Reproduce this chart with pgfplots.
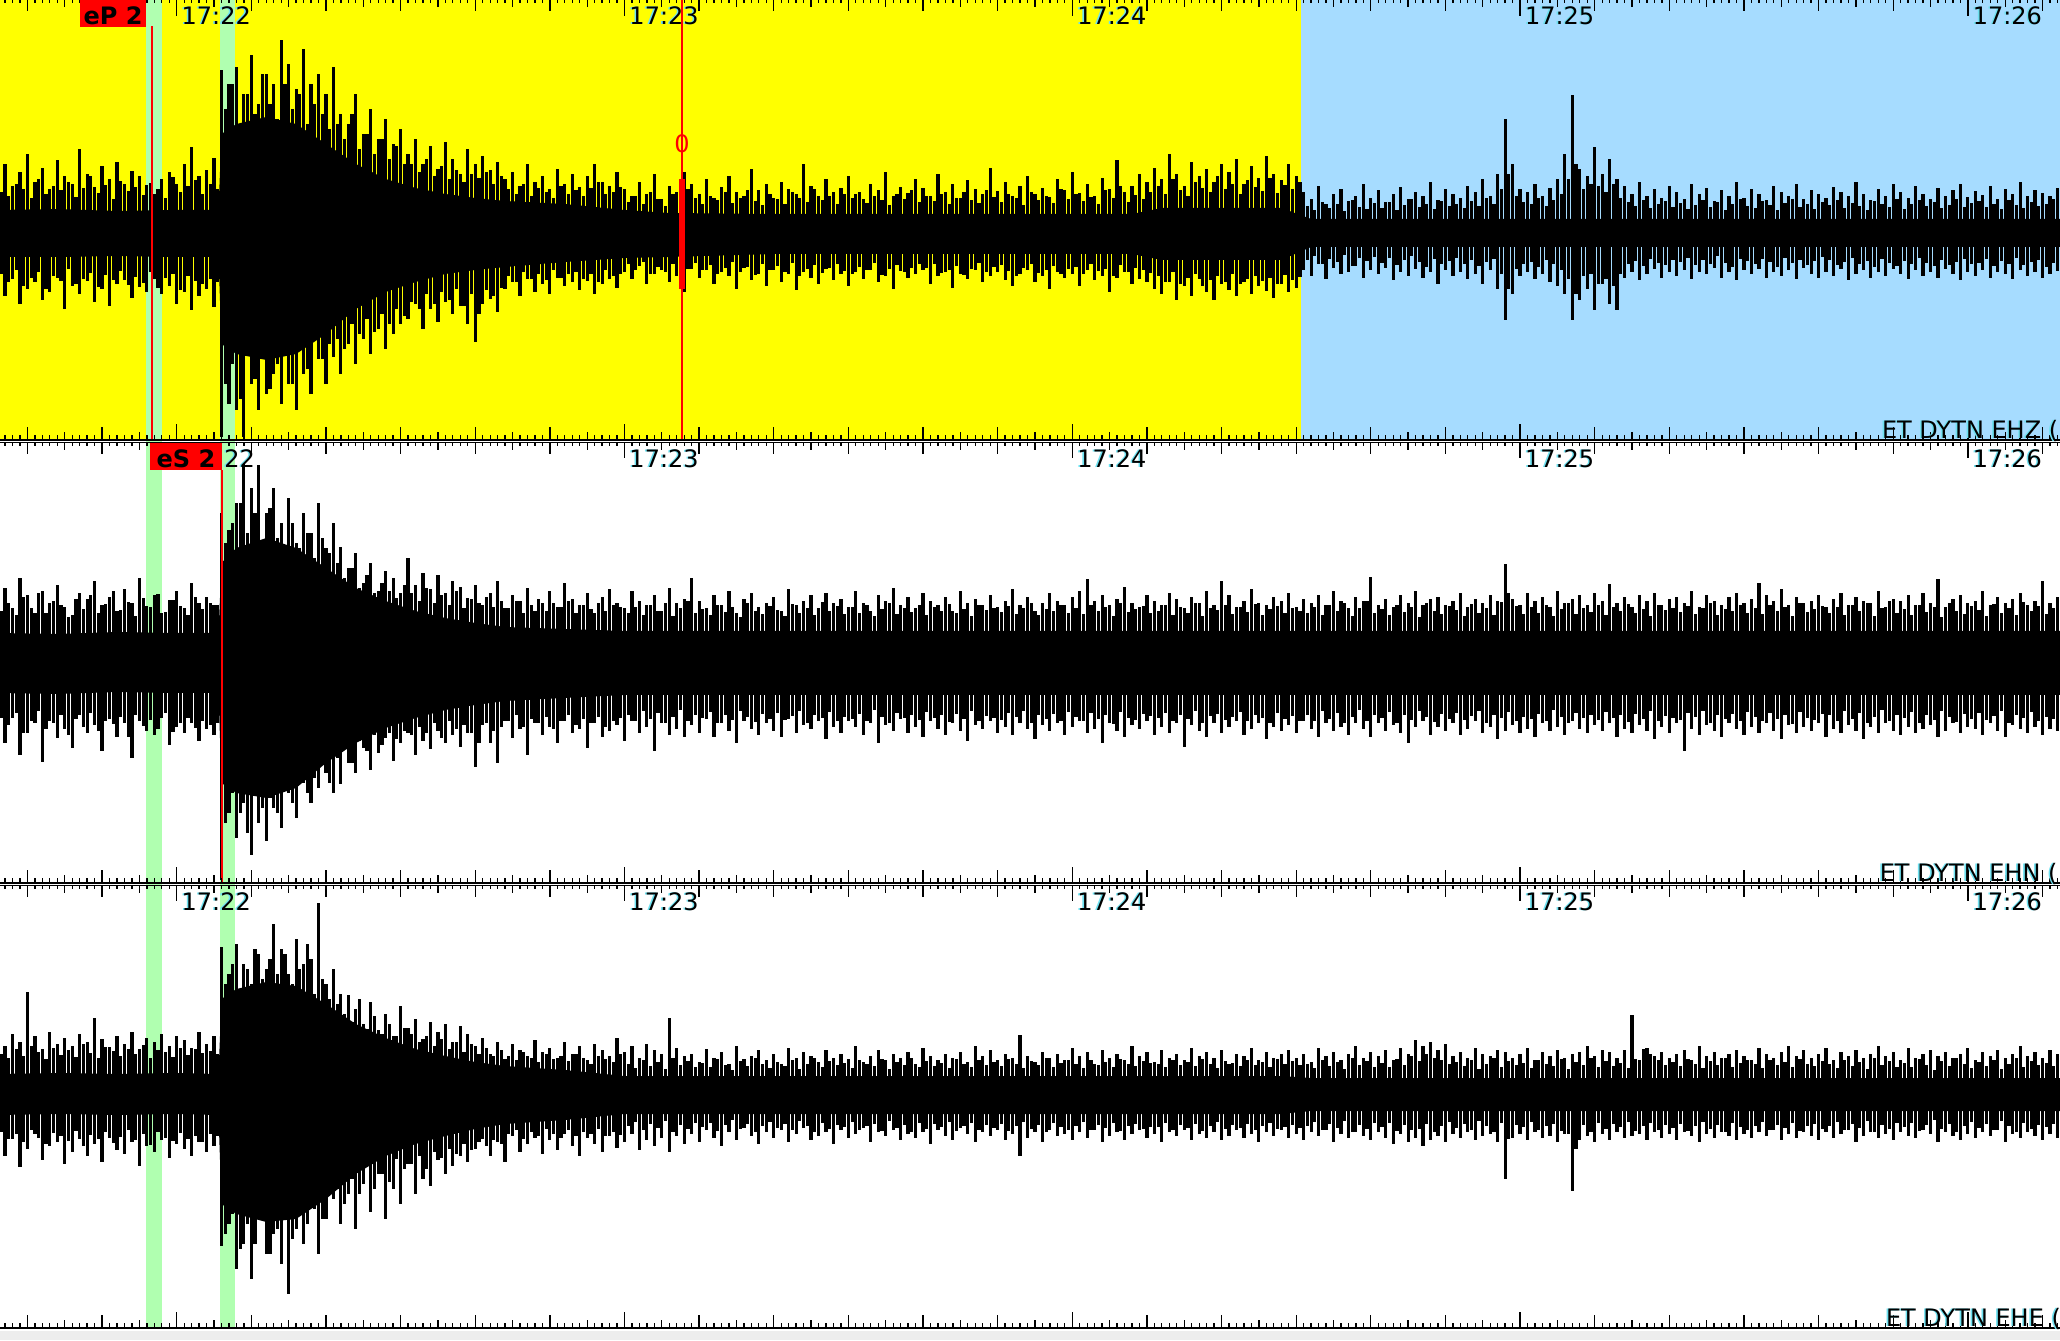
\documentclass[border=0pt]{standalone}
\usepackage{fontspec}
\setmainfont{DejaVu Sans}
\usepackage{pgfplots}
\pgfplotsset{compat=1.18}
\usepackage{pgfplotstable}
\definecolor{ybg}{RGB}{255,255,0}
\definecolor{bbg}{RGB}{166,220,255}
\definecolor{gband}{RGB}{176,255,176}
\definecolor{shadowc}{RGB}{110,225,240}
\definecolor{grayband}{RGB}{237,237,237}
\newcommand\lab{\fontsize{12}{14}\selectfont}

% main spikes: t (s after 17:22:00), up/down extremes per trace (EHZ, EHN, EHE), in px
\pgfplotstableread{
t a1 b1 a2 b2 a3 b3
-24 55 -50 62 -65 55 -50
-23 70 -62 75 -80 48 -62
-22 48 -45 55 -55 60 -45
-21 62 -70 85 -92 52 -73
-20 80 -55 68 -70 102 -55
-19 52 -48 50 -60 58 -40
-18 66 -66 72 -99 45 -66
-17 45 -58 60 -58 62 -52
-16 74 -44 78 -75 50 -48
-15 58 -75 56 -66 56 -70
-14 50 -52 48 -85 48 -58
-13 85 -60 70 -52 60 -45
-12 60 -47 64 -70 52 -62
-11 47 -68 82 -62 76 -50
-10 68 -55 58 -88 55 -68
-9 55 -72 66 -56 47 -44
-8 72 -50 52 -74 58 -56
-7 50 -46 74 -60 50 -60
-6 63 -64 60 -95 62 -48
-5 58 -53 85 -58 45 -72
-4 49 -58 57 -68 56 -52
-3 40 -45 68 -72 52 -58
-2 55 -60 50 -55 60 -46
-1 62 -52 63 -82 48 -64
0 50 -70 72 -64 58 -50
1 70 -58 55 -70 54 -55
2 87 -76 80 -60 46 -62
3 58 -62 60 -78 62 -48
4 64 -55 66 -66 50 -58
5 76 -73 58 -72 58 -52
6 164 -203 150 -217 147 -152
7 150 -170 133 -150 120 -130
8 167 -176 160 -175 150 -175
9 140 -203 200 -140 130 -150
10 179 -150 175 -192 110 -185
11 130 -176 198 -160 140 -120
12 160 -160 150 -178 125 -160
13 150 -140 175 -145 170 -140
14 194 -170 140 -165 145 -170
15 170 -150 165 -130 120 -200
16 145 -176 120 -155 155 -135
17 185 -140 150 -120 130 -150
18 150 -160 130 -140 135 -110
19 160 -125 160 -125 191 -160
20 140 -150 115 -110 110 -125
21 167 -123 140 -130 125 -105
22 120 -140 116 -121 100 -130
23 110 -110 95 -100 99 -100
24 140 -130 110 -110 85 -135
25 100 -105 80 -85 70 -90
26 125 -120 100 -107 92 -118
27 95 -95 72 -90 64 -80
28 115 -115 92 -75 80 -125
29 90 -100 85 -98 58 -95
30 105 -90 70 -80 88 -110
31 80 -85 105 -70 66 -70
32 95 -70 78 -92 75 -100
33 70 -95 90 -78 55 -85
34 88 -75 74 -86 72 -92
35 65 -88 88 -68 62 -66
36 92 -68 70 -80 70 -80
37 75 -80 82 -72 52 -72
38 60 -72 76 -84 68 -62
39 85 -90 65 -70 60 -68
40 70 -108 78 -104 48 -55
41 78 -70 58 -62 56 -45
42 64 -65 70 -80 40 -62
43 72 -78 82 -100 52 -48
44 55 -55 55 -58 35 -68
45 62 -48 68 -75 50 -42
46 48 -62 62 -66 44 -58
47 70 -45 75 -92 38 -50
48 52 -58 52 -60 54 -44
49 58 -50 60 -72 42 -60
50 45 -60 72 -64 46 -46
51 65 -44 56 -80 36 -56
52 50 -52 80 -58 52 -40
53 60 -48 64 -70 40 -52
54 47 -56 58 -66 48 -62
55 58 -47 70 -85 34 -44
56 70 -60 50 -60 50 -50
57 52 -50 66 -74 44 -58
58 48 -45 74 -68 38 -42
59 62 -54 60 -62 56 -54
60 45 -38 55 -78 42 -48
61 38 -45 72 -58 48 -40
62 52 -32 62 -70 36 -56
63 40 -50 58 -64 50 -46
64 60 -40 68 -88 44 -52
65 35 -36 52 -60 40 -44
66 48 -48 75 -72 76 -58
67 42 -42 60 -66 46 -42
68 62 -58 64 -74 38 -50
69 50 -35 85 -62 40 -40
70 40 -44 62 -70 32 -48
71 55 -36 55 -56 45 -36
72 36 -50 68 -74 36 -44
73 47 -38 58 -60 42 -52
74 58 -42 72 -68 30 -38
75 42 -55 50 -80 48 -46
76 38 -34 64 -58 35 -34
77 65 -46 70 -66 38 -42
78 44 -40 56 -72 44 -50
79 50 -52 60 -60 34 -38
80 36 -36 66 -68 40 -44
81 52 -48 52 -74 30 -36
82 45 -40 74 -56 46 -48
83 40 -56 58 -70 36 -40
84 70 -38 62 -62 42 -34
85 48 -44 68 -66 38 -46
86 38 -50 55 -58 32 -42
87 55 -35 70 -76 44 -38
88 42 -46 60 -64 36 -50
89 46 -40 64 -70 40 -36
90 58 -52 56 -58 35 -44
91 40 -38 72 -64 48 -40
92 35 -45 60 -72 32 -34
93 50 -36 52 -60 38 -48
94 44 -48 68 -80 44 -38
95 62 -42 62 -62 34 -42
96 38 -55 75 -68 40 -36
97 47 -37 58 -56 36 -46
98 41 -44 66 -70 42 -40
99 55 -40 55 -64 30 -44
100 46 -36 70 -74 46 -38
101 38 -50 62 -58 38 -50
102 60 -42 58 -66 34 -36
103 42 -38 66 -72 40 -42
104 50 -54 52 -60 36 -46
105 36 -40 72 -68 42 -34
106 54 -45 60 -78 32 -40
107 45 -36 64 -62 48 -48
108 40 -48 58 -66 38 -38
109 66 -42 68 -58 44 -42
110 43 -38 56 -70 34 -36
111 52 -46 62 -64 40 -46
112 38 -52 74 -72 36 -40
113 48 -40 58 -60 59 -62
114 58 -36 66 -66 38 -44
115 40 -48 52 -76 32 -38
116 46 -42 60 -62 42 -48
117 37 -55 70 -68 36 -36
118 55 -38 62 -60 40 -42
119 44 -44 58 -72 34 -40
120 62 -40 66 -64 46 -46
121 41 -52 72 -58 38 -38
122 50 -36 84 -70 42 -44
123 38 -46 62 -66 30 -36
124 56 -42 68 -80 44 -48
125 45 -58 58 -60 36 -42
126 74 -44 64 -68 40 -38
127 42 -38 76 -74 34 -46
128 48 -50 60 -62 48 -40
129 60 -45 56 -66 38 -36
130 52 -48 68 -58 42 -44
131 66 -55 62 -72 32 -40
132 55 -60 58 -64 44 -48
133 80 -48 70 -70 36 -38
134 60 -66 64 -60 40 -42
135 48 -52 55 -84 34 -36
136 72 -62 66 -62 46 -46
137 58 -45 60 -68 38 -40
138 65 -58 72 -74 42 -44
139 52 -66 58 -60 36 -38
140 70 -50 82 -70 44 -46
141 62 -56 68 -64 30 -42
142 75 -62 56 -58 40 -36
143 50 -48 62 -72 38 -44
144 68 -60 74 -66 46 -40
145 56 -52 60 -60 34 -48
146 78 -57 58 -76 42 -38
147 60 -64 66 -64 36 -42
148 54 -50 62 -68 40 -36
149 70 -58 70 -62 44 -44
150 58 -54 56 -70 36 -40
151 42 -36 64 -58 40 -46
152 35 -42 60 -66 32 -38
153 48 -30 68 -74 46 -42
154 30 -45 58 -60 38 -36
155 40 -34 72 -68 42 -48
156 45 -40 62 -64 34 -40
157 33 -38 55 -72 40 -44
158 38 -32 66 -60 48 -38
159 50 -44 62 -66 36 -42
160 36 -36 86 -74 42 -46
161 44 -40 58 -60 38 -38
162 32 -34 64 -68 44 -44
163 40 -46 56 -62 34 -50
164 47 -38 68 -70 46 -40
165 35 -42 60 -80 40 -48
166 42 -35 72 -64 54 -44
167 38 -44 58 -58 48 -52
168 52 -38 64 -72 52 -46
169 34 -50 66 -64 44 -42
170 45 -36 58 -68 50 -48
171 40 -42 62 -60 38 -40
172 36 -38 70 -72 42 -44
173 48 -45 56 -66 36 -38
174 42 -40 64 -58 46 -46
175 55 -50 60 -70 40 -42
176 38 -36 68 -64 38 -40
177 60 -55 62 -76 44 -48
178 115 -86 99 -68 42 -85
179 70 -60 64 -62 36 -44
180 45 -42 58 -70 40 -40
181 42 -38 70 -66 46 -46
182 50 -45 62 -74 34 -38
183 38 -40 66 -60 42 -44
184 46 -48 56 -68 38 -42
185 55 -52 72 -64 44 -48
186 80 -60 60 -72 36 -40
187 139 -86 64 -58 40 -97
188 65 -66 68 -66 42 -46
189 58 -55 58 -70 48 -42
190 87 -76 70 -62 38 -48
191 60 -50 62 -68 44 -40
192 75 -70 79 -60 42 -46
193 55 -76 60 -74 36 -38
194 48 -44 66 -66 44 -44
195 40 -38 56 -70 79 -42
196 52 -46 68 -62 34 -40
197 38 -40 62 -68 46 -46
198 45 -35 70 -76 38 -38
199 36 -44 58 -64 42 -44
200 48 -38 64 -70 36 -40
201 42 -42 66 -60 40 -46
202 35 -36 60 -88 44 -38
203 50 -45 72 -66 34 -42
204 40 -38 56 -72 48 -48
205 46 -40 68 -62 38 -40
206 33 -34 62 -68 42 -44
207 44 -44 58 -74 36 -38
208 38 -38 66 -60 40 -42
209 52 -46 70 -66 44 -46
210 36 -36 60 -72 38 -40
211 45 -40 64 -64 34 -44
212 40 -35 80 -70 46 -38
213 34 -44 68 -60 40 -42
214 48 -38 62 -68 36 -36
215 42 -42 74 -76 42 -46
216 38 -36 58 -62 48 -40
217 50 -45 66 -70 38 -44
218 35 -34 60 -64 44 -38
219 44 -40 62 -68 36 -42
220 40 -44 68 -60 40 -46
221 36 -38 56 -74 46 -38
222 47 -42 64 -66 34 -44
223 42 -35 70 -70 42 -40
224 38 -46 58 -62 38 -36
225 52 -40 66 -68 44 -48
226 40 -36 62 -76 36 -42
227 34 -44 60 -64 40 -38
228 45 -38 72 -70 48 -44
229 38 -42 56 -60 38 -40
230 50 -35 64 -68 42 -46
231 42 -40 62 -72 34 -38
232 36 -45 68 -64 46 -42
233 48 -36 58 -70 36 -44
234 40 -42 70 -66 40 -36
235 35 -38 60 -62 44 -40
236 46 -44 84 -74 38 -48
237 38 -35 56 -68 42 -38
238 44 -40 64 -60 36 -42
239 50 -46 68 -70 40 -46
240 37 -38 60 -64 46 -40
241 43 -42 62 -66 34 -44
242 39 -36 72 -72 42 -38
243 48 -44 58 -60 38 -42
244 35 -38 66 -68 44 -36
245 45 -40 60 -74 36 -48
246 40 -45 64 -62 40 -40
247 52 -36 70 -66 48 -44
248 38 -42 58 -70 38 -38
249 44 -38 62 -64 42 -42
250 41 -44 82 -72 36 -46
251 38 -40 60 -66 44 -40
252 46 -37 66 -68 40 -44
}\spk

% in-between spikes at half seconds
\pgfplotstableread{
t a1 b1 a2 b2 a3 b3
-23.5 42 -40 52 -55 40 -38
-22.5 38 -48 60 -62 36 -45
-21.5 50 -36 48 -50 45 -40
-20.5 45 -52 66 -70 38 -48
-19.5 36 -44 55 -58 48 -36
-18.5 55 -38 70 -48 42 -44
-17.5 40 -55 50 -66 35 -50
-16.5 48 -42 62 -60 46 -39
-15.5 44 -47 58 -52 39 -42
-14.5 52 -35 46 -72 44 -47
-13.5 37 -50 64 -56 37 -37
-12.5 46 -45 54 -64 50 -52
-11.5 58 -39 68 -50 41 -41
-10.5 41 -53 50 -68 36 -45
-9.5 49 -41 59 -58 47 -38
-8.5 35 -46 72 -61 43 -49
-7.5 53 -37 53 -54 38 -43
-6.5 43 -51 61 -74 45 -36
-5.5 47 -43 47 -52 40 -46
-4.5 39 -49 65 -63 49 -40
-3.5 51 -38 56 -57 36 -51
-2.5 45 -54 69 -66 44 -38
-1.5 36 -44 51 -50 42 -44
-0.5 57 -40 63 -69 37 -47
0.5 42 -56 57 -60 46 -39
1.5 48 -42 48 -55 39 -45
2.5 54 -47 66 -65 45 -42
3.5 40 -50 54 -58 41 -48
4.5 50 -45 60 -62 43 -40
5.5 45 -48 58 -60 40 -42
6.5 125 -150 120 -160 110 -140
7.5 150 -130 140 -130 130 -120
8.5 110 -165 160 -150 100 -155
9.5 140 -120 130 -170 125 -130
10.5 120 -145 150 -125 145 -150
11.5 160 -110 120 -145 115 -125
12.5 130 -155 155 -135 135 -160
13.5 115 -130 125 -150 120 -135
14.5 150 -120 110 -120 140 -120
15.5 125 -150 140 -140 110 -145
16.5 140 -115 115 -110 125 -110
17.5 110 -135 130 -130 150 -130
18.5 130 -105 105 -115 100 -115
19.5 120 -125 125 -100 115 -125
20.5 105 -110 110 -120 95 -100
21.5 110 -105 100 -95 90 -95
22.5 95 -115 85 -85 80 -110
23.5 120 -90 95 -100 72 -85
24.5 85 -100 75 -78 95 -100
25.5 100 -85 88 -88 65 -72
26.5 80 -98 70 -72 78 -95
27.5 95 -80 80 -82 60 -80
28.5 75 -90 72 -70 70 -88
29.5 88 -75 65 -76 58 -65
30.5 70 -82 78 -68 66 -75
31.5 70 -68 70 -72 60 -70
32.5 62 -75 62 -64 52 -62
33.5 75 -60 75 -70 58 -75
34.5 58 -70 60 -60 48 -58
35.5 68 -58 68 -75 55 -64
36.5 55 -66 58 -58 45 -55
37.5 64 -55 72 -66 52 -60
38.5 52 -72 55 -62 42 -50
39.5 60 -60 64 -70 50 -56
40.5 56 -80 60 -80 40 -48
41.5 62 -56 66 -60 46 -52
42.5 50 -62 56 -68 38 -46
43.5 58 -54 62 -64 44 -50
44.5 45 -42 55 -58 38 -40
45.5 40 -48 62 -52 34 -36
46.5 50 -38 50 -64 42 -45
47.5 38 -45 58 -56 36 -38
48.5 46 -40 64 -60 32 -42
49.5 42 -46 52 -54 40 -35
50.5 36 -36 60 -66 35 -40
51.5 48 -44 56 -58 38 -44
52.5 40 -40 62 -52 33 -36
53.5 44 -38 50 -62 40 -42
54.5 38 -45 58 -56 36 -38
55.5 46 -40 54 -60 30 -40
56.5 52 -48 60 -54 38 -35
57.5 40 -36 52 -64 35 -42
58.5 42 -42 58 -58 32 -38
59.5 47 -40 56 -55 40 -41
60.5 32 -30 50 -52 30 -32
61.5 38 -36 56 -58 26 -28
62.5 30 -28 48 -48 34 -36
63.5 42 -40 58 -56 28 -30
64.5 35 -33 52 -50 32 -34
65.5 28 -38 60 -60 25 -27
66.5 40 -30 47 -54 36 -38
67.5 33 -42 55 -47 29 -31
68.5 45 -35 62 -58 33 -35
69.5 36 -29 50 -52 27 -29
70.5 30 -36 54 -55 31 -33
71.5 38 -31 48 -49 27 -29
72.5 34 -40 58 -60 35 -37
73.5 42 -34 51 -52 29 -31
74.5 31 -28 56 -57 24 -26
75.5 36 -38 46 -48 33 -35
76.5 44 -33 60 -54 28 -30
77.5 33 -41 52 -59 36 -38
78.5 29 -30 49 -51 30 -32
79.5 40 -36 57 -56 26 -28
80.5 35 -32 53 -50 32 -34
81.5 30 -38 47 -57 28 -30
82.5 42 -29 59 -53 34 -36
83.5 36 -42 50 -48 25 -27
84.5 32 -35 55 -60 30 -32
85.5 45 -31 48 -52 36 -38
86.5 34 -39 61 -55 27 -29
87.5 38 -34 52 -49 33 -35
88.5 30 -30 57 -58 29 -31
89.5 40 -37 49 -54 31 -33
90.5 36 -40 56 -56 26 -28
91.5 42 -33 50 -51 34 -36
92.5 31 -36 58 -58 30 -32
93.5 38 -29 47 -47 28 -30
94.5 34 -41 54 -54 35 -37
95.5 29 -35 60 -60 25 -27
96.5 40 -31 49 -50 32 -34
97.5 35 -38 55 -55 29 -31
98.5 44 -34 51 -52 36 -38
99.5 32 -30 58 -57 27 -29
100.5 38 -34 48 -49 33 -35
101.5 33 -30 56 -55 28 -30
102.5 40 -39 52 -52 31 -33
103.5 30 -36 59 -59 26 -28
104.5 36 -32 50 -51 35 -37
105.5 42 -41 54 -56 30 -32
106.5 34 -35 47 -48 27 -29
107.5 31 -29 58 -58 34 -36
108.5 44 -38 53 -53 29 -31
109.5 37 -33 55 -55 32 -34
110.5 32 -31 51 -57 28 -30
111.5 40 -37 57 -50 35 -37
112.5 36 -42 49 -54 30 -32
113.5 29 -34 55 -48 26 -28
114.5 42 -30 60 -60 33 -35
115.5 34 -39 48 -52 29 -31
116.5 38 -36 54 -56 36 -38
117.5 31 -32 52 -51 27 -29
118.5 45 -40 58 -58 31 -33
119.5 35 -35 50 -49 34 -36
120.5 40 -33 55 -54 30 -32
121.5 33 -40 49 -58 26 -28
122.5 37 -30 58 -50 34 -36
123.5 30 -37 52 -56 29 -31
124.5 44 -35 56 -52 32 -34
125.5 36 -42 47 -61 27 -29
126.5 48 -31 60 -49 35 -37
127.5 32 -38 51 -55 30 -32
128.5 39 -34 54 -57 28 -30
129.5 35 -36 57 -51 33 -35
130.5 42 -39 50 -53 31 -33
131.5 48 -42 52 -55 30 -33
132.5 40 -48 58 -50 27 -29
133.5 55 -38 48 -58 34 -36
134.5 44 -50 56 -52 29 -31
135.5 38 -44 50 -56 32 -34
136.5 52 -40 60 -48 28 -30
137.5 46 -52 47 -60 35 -37
138.5 42 -46 55 -53 30 -32
139.5 58 -42 53 -51 26 -28
140.5 45 -48 58 -57 33 -35
141.5 50 -40 49 -54 31 -31
142.5 40 -50 56 -49 28 -34
143.5 54 -45 51 -58 34 -30
144.5 47 -42 59 -52 29 -36
145.5 43 -47 48 -55 32 -32
146.5 56 -44 54 -60 27 -29
147.5 41 -50 57 -50 35 -35
148.5 49 -41 50 -56 30 -33
149.5 45 -46 55 -53 33 -31
150.5 52 -43 52 -58 29 -34
151.5 28 -26 50 -52 30 -32
152.5 24 -22 56 -58 26 -28
153.5 32 -30 48 -48 34 -36
154.5 26 -25 58 -56 28 -30
155.5 30 -28 52 -50 32 -34
156.5 23 -21 60 -60 25 -27
157.5 34 -32 47 -54 36 -38
158.5 27 -24 55 -47 29 -31
159.5 25 -27 62 -58 33 -35
160.5 31 -23 50 -52 27 -29
161.5 26 -29 54 -55 31 -33
162.5 32 -24 48 -49 27 -29
163.5 24 -31 58 -60 35 -37
164.5 29 -26 51 -52 29 -31
165.5 35 -22 56 -57 38 -36
166.5 27 -28 46 -48 33 -35
167.5 30 -33 60 -54 40 -30
168.5 25 -25 52 -59 36 -38
169.5 33 -30 49 -51 34 -32
170.5 28 -27 57 -56 30 -28
171.5 30 -24 53 -50 32 -34
172.5 26 -30 47 -57 28 -30
173.5 33 -26 59 -53 34 -36
174.5 28 -32 50 -48 25 -27
175.5 36 -28 55 -60 30 -32
176.5 30 -25 48 -52 36 -38
177.5 45 -40 61 -55 27 -29
178.5 60 -55 70 -49 33 -45
179.5 38 -35 57 -58 29 -31
180.5 32 -30 49 -54 31 -33
181.5 30 -28 56 -56 26 -28
182.5 36 -33 50 -51 34 -36
183.5 28 -26 58 -58 30 -32
184.5 34 -30 47 -47 28 -30
185.5 40 -36 54 -54 35 -37
186.5 55 -45 60 -60 25 -40
187.5 70 -60 49 -50 32 -55
188.5 45 -42 55 -55 29 -31
189.5 50 -40 51 -52 36 -38
190.5 48 -50 58 -57 27 -29
191.5 42 -45 48 -49 33 -35
192.5 50 -52 56 -55 28 -30
193.5 36 -40 52 -52 31 -33
194.5 32 -30 59 -59 26 -28
195.5 28 -27 50 -51 35 -37
196.5 34 -32 54 -56 45 -32
197.5 26 -25 47 -48 40 -29
198.5 30 -29 58 -58 34 -36
199.5 33 -31 53 -53 29 -31
200.5 27 -26 55 -55 32 -34
201.5 31 -28 51 -57 28 -30
202.5 25 -24 57 -50 35 -37
203.5 29 -31 49 -54 30 -32
204.5 34 -26 55 -48 26 -28
205.5 27 -30 60 -60 33 -35
206.5 32 -22 48 -52 29 -31
207.5 24 -29 54 -56 36 -38
208.5 30 -33 52 -51 27 -29
209.5 35 -25 58 -58 31 -33
210.5 28 -27 50 -49 34 -36
211.5 26 -30 55 -54 30 -32
212.5 33 -25 49 -58 26 -28
213.5 29 -28 58 -50 34 -36
214.5 24 -33 52 -56 29 -31
215.5 31 -24 56 -52 32 -34
216.5 35 -29 47 -61 27 -29
217.5 27 -26 60 -49 35 -37
218.5 30 -31 51 -55 30 -32
219.5 25 -27 54 -57 28 -30
220.5 32 -23 57 -51 33 -35
221.5 29 -26 50 -52 30 -32
222.5 34 -31 56 -58 26 -28
223.5 26 -28 48 -48 34 -36
224.5 31 -24 58 -56 28 -30
225.5 28 -30 52 -50 32 -34
226.5 24 -27 60 -60 25 -27
227.5 33 -33 47 -54 36 -38
228.5 30 -25 55 -47 29 -31
229.5 27 -29 62 -58 33 -35
230.5 35 -32 50 -52 27 -29
231.5 25 -27 54 -55 31 -33
232.5 30 -30 48 -49 27 -29
233.5 34 -24 58 -60 35 -37
234.5 28 -29 51 -52 29 -31
235.5 32 -32 56 -57 24 -26
236.5 26 -26 46 -48 33 -35
237.5 29 -31 60 -54 28 -30
238.5 35 -28 52 -59 36 -38
239.5 27 -25 49 -51 30 -32
240.5 31 -30 57 -56 26 -28
241.5 33 -29 53 -50 32 -34
242.5 27 -25 47 -57 28 -30
243.5 30 -32 59 -53 34 -36
244.5 25 -27 50 -48 25 -27
245.5 34 -30 55 -60 30 -32
246.5 29 -24 48 -52 36 -38
247.5 26 -31 61 -55 27 -29
248.5 32 -28 52 -49 33 -35
249.5 28 -26 57 -58 29 -31
250.5 30 -33 49 -54 31 -33
251.5 35 -29 55 -56 28 -30
}\spkb

% dense core outline of each trace (px): upper edge left to right, lower edge right to left
\pgfplotstableread{
t c1 c2 c3
-24 24 30 20
-16 25 29 21
-8 23 31 20
0 24 30 21
5.6 24 30 20
6 100 100 95
8 110 115 105
12 117 125 112
16 110 115 108
20 90 95 90
24 70 75 70
28 55 62 56
32 46 52 45
36 40 45 38
40 36 40 32
44 33 36 28
52 30 34 24
60 24 32 18
66 21 32 18
80 20 32 18
128 20 32 18
132 26 32 18
148 26 32 18
152 15 32 16
176 15 32 16
252.5 15 32 16
252.5 -13 -32 -17
176 -13 -32 -17
152 -13 -32 -17
148 -26 -32 -20
132 -26 -32 -20
128 -20 -32 -20
80 -20 -32 -20
66 -23 -32 -20
60 -24 -32 -20
52 -28 -35 -26
44 -33 -38 -30
40 -36 -42 -35
36 -40 -47 -42
32 -48 -55 -50
28 -58 -65 -62
24 -75 -80 -80
20 -100 -100 -105
16 -120 -125 -125
12 -126 -135 -128
8 -120 -130 -120
6 -110 -120 -110
5.6 -23 -30 -21
0 -23 -30 -20
-8 -22 -29 -21
-16 -23 -31 -20
-24 -23 -30 -21
}\core

\pgfplotsset{seis/.style={width=1030pt, scale only axis, xmin=-23.677, xmax=252.35, hide axis, clip=true, anchor=south west},
  spike/.style={ycomb, black, line width=1.6pt}}

\begin{document}
\begin{tikzpicture}
\path[use as bounding box] (0pt,0pt) rectangle (1030pt,670pt);
\begin{scope}[x=1pt,y=1pt]
\fill[ybg] (0,450) rectangle (650.35,670);
\fill[bbg] (650.35,450) rectangle (1030,670);
\fill[grayband] (0,0) rectangle (1030,4.65);
\fill[gband] (72.9,6) rectangle (80.8,670);
\fill[gband] (109.8,6) rectangle (117.7,670);
\end{scope}

\begin{axis}[seis, at={(0pt,450pt)}, height=220pt, ymin=-206, ymax=234]
\addplot[fill=black, draw=none] table[x=t,y=c1]{\core};
\addplot[spike] table[x=t,y=a1]{\spk};
\addplot[spike] table[x=t,y=b1]{\spk};
\addplot[spike] table[x=t,y=a1]{\spkb};
\addplot[spike] table[x=t,y=b1]{\spkb};
\end{axis}

\begin{axis}[seis, at={(0pt,228.5pt)}, height=220pt, ymin=-220, ymax=220]
\addplot[fill=black, draw=none] table[x=t,y=c2]{\core};
\addplot[spike] table[x=t,y=a2]{\spk};
\addplot[spike] table[x=t,y=b2]{\spk};
\addplot[spike] table[x=t,y=a2]{\spkb};
\addplot[spike] table[x=t,y=b2]{\spkb};
\end{axis}

\begin{axis}[seis, at={(0pt,6pt)}, height=221.15pt, ymin=-234, ymax=208.3]
\addplot[fill=black, draw=none] table[x=t,y=c3]{\core};
\addplot[spike] table[x=t,y=a3]{\spk};
\addplot[spike] table[x=t,y=b3]{\spk};
\addplot[spike] table[x=t,y=a3]{\spkb};
\addplot[spike] table[x=t,y=b3]{\spkb};
\end{axis}

\begin{scope}[x=1pt,y=1pt]
\clip (0,0) rectangle (1030,670);
% pick lines
\draw[red, line width=1pt] (76,450) -- (76,657);
\draw[red, line width=1pt] (111,228.5) -- (111,435);
\draw[red, line width=0.85pt] (341,450) -- (341,670);
\fill[red] (339.6,525.5) rectangle (342.4,580.5);
\node[red, font=\lab, inner sep=0pt] at (341,598) {0};
% axis lines
\foreach \yy in {450,448.65,228.5,227.15,6} {\draw[line width=0.65pt] (0,\yy) -- (1030,\yy);}
% ticks
\foreach \t in {-23,...,252} {
  \pgfmathsetmacro\xx{88.35+3.7315*\t}
  \pgfmathsetmacro\dl{ifthenelse(mod(\t,60)==0,7.8,ifthenelse(mod(\t,10)==0,5.5,ifthenelse(mod(\t,5)==0,3.5,1.7)))}
  \pgfmathsetmacro\ul{ifthenelse(mod(\t,60)==0,8.2,ifthenelse(mod(\t,10)==0,6.3,ifthenelse(mod(\t,5)==0,4.2,2.3)))}
  \draw[line width=0.65pt] (\xx,670) -- ++(0,-\dl);
  \draw[line width=0.65pt] (\xx,450) -- ++(0,\ul);
  \draw[line width=0.65pt] (\xx,448.65) -- ++(0,-\dl);
  \draw[line width=0.65pt] (\xx,228.5) -- ++(0,\ul);
  \draw[line width=0.65pt] (\xx,227.15) -- ++(0,-\dl);
  \draw[line width=0.65pt] (\xx,6) -- ++(0,\ul);
}
% time labels
\foreach \m/\lbl in {0/17:22,1/17:23,2/17:24,3/17:25,4/17:26} {
  \pgfmathsetmacro\lx{88.35+223.89*\m+2.3}
  \foreach \yy in {670,227.15} {
    \node[anchor=north west, inner sep=0pt, text=shadowc, font=\lab] at (\lx-0.8,\yy-3.3) {\lbl};
    \node[anchor=north west, inner sep=0pt, text=black, font=\lab] at (\lx,\yy-3.3) {\lbl};
  }
}
\foreach \m/\lbl in {1/17:23,2/17:24,3/17:25,4/17:26} {
  \pgfmathsetmacro\lx{88.35+223.89*\m+2.3}
  \node[anchor=north west, inner sep=0pt, text=shadowc, font=\lab] at (\lx-0.8,448.65-3.3) {\lbl};
  \node[anchor=north west, inner sep=0pt, text=black, font=\lab] at (\lx,448.65-3.3) {\lbl};
}
% the part of 17:22 not hidden by the eS flag
\node[anchor=north west, inner sep=0pt, text=shadowc, font=\lab] at (111.2,445.35) {22};
\node[anchor=north west, inner sep=0pt, text=black, font=\lab] at (112,445.35) {22};
% station labels
\node[anchor=base west, inner sep=0pt, text=shadowc, font=\lab] at (940.0,450.8) {ET DYTN EHZ (};
\node[anchor=base west, inner sep=0pt, font=\lab] at (940.8,450.8) {ET DYTN EHZ (};
\node[anchor=base west, inner sep=0pt, text=shadowc, font=\lab] at (938.9,229.3) {ET DYTN EHN (};
\node[anchor=base west, inner sep=0pt, font=\lab] at (939.7,229.3) {ET DYTN EHN (};
\node[anchor=base west, inner sep=0pt, text=shadowc, font=\lab] at (942.0,6.8) {ET DYTN EHE (};
\node[anchor=base west, inner sep=0pt, font=\lab] at (942.8,6.8) {ET DYTN EHE (};
% pick boxes
\fill[red] (40,656.7) rectangle (73,670);
\node[anchor=base, inner sep=0pt, font=\lab\bfseries] at (56.5,657.6) {eP 2};
\fill[red] (75.2,435) rectangle (111,448.65);
\node[anchor=base, inner sep=0pt, font=\lab\bfseries] at (93,436.2) {eS 2};
\end{scope}
\end{tikzpicture}
\end{document}
